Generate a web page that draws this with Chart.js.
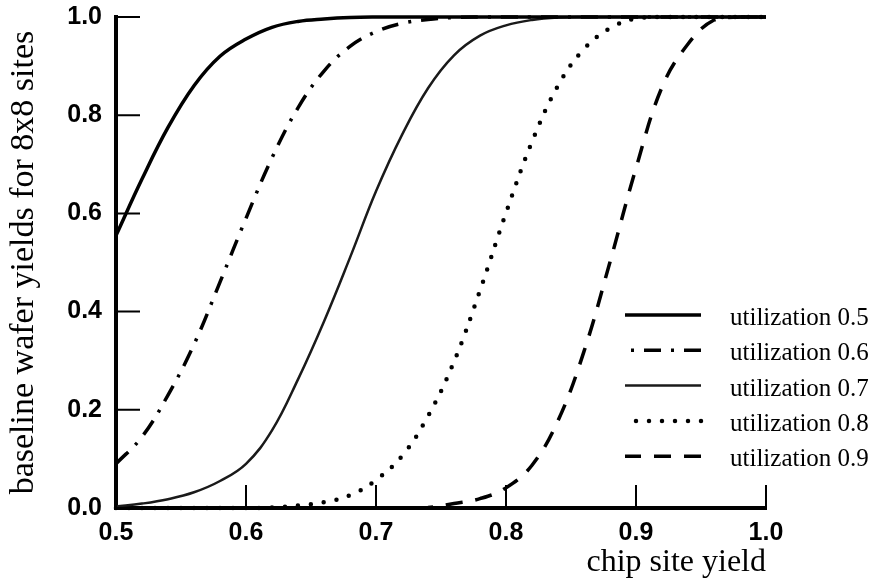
<!DOCTYPE html>
<html>
<head>
<meta charset="utf-8">
<script src="https://cdn.jsdelivr.net/npm/chart.js@4.4.1/dist/chart.umd.min.js"></script>
<style>
  html, body { margin: 0; padding: 0; background: #fff; }
  canvas { display: block; }
</style>
</head>
<body>
<canvas id="yieldChart" width="880" height="588"></canvas>
<script>
// chip site yield, 0.5 .. 1.0 in steps of 0.02
const chipYield = [0.50, 0.52, 0.54, 0.56, 0.58, 0.60, 0.62, 0.64, 0.66, 0.68,
                   0.70, 0.72, 0.74, 0.76, 0.78, 0.80, 0.82, 0.84, 0.86, 0.88,
                   0.90, 0.92, 0.94, 0.96, 0.98, 1.00];

// wafer yield for an 8x8 array at each utilization
const util05 = [0.555, 0.67, 0.775, 0.86, 0.92, 0.955, 0.979, 0.991, 0.996, 0.999,
                1, 1, 1, 1, 1, 1, 1, 1, 1, 1, 1, 1, 1, 1, 1, 1];
const util06 = [0.09, 0.145, 0.23, 0.333, 0.46, 0.59, 0.713, 0.815, 0.89, 0.94,
                0.97, 0.987, 0.995, 0.999, 1, 1, 1, 1, 1, 1, 1, 1, 1, 1, 1, 1];
const util07 = [0.003, 0.009, 0.018, 0.032, 0.055, 0.09, 0.158, 0.262, 0.38, 0.51,
                0.645, 0.76, 0.855, 0.922, 0.962, 0.983, 0.994, 0.999, 1, 1,
                1, 1, 1, 1, 1, 1];
const util08 = [0, 0, 0, 0, 0, 0, 0.001, 0.005, 0.012, 0.026,
                0.057, 0.106, 0.187, 0.298, 0.443, 0.601, 0.746, 0.86, 0.935, 0.977,
                0.997, 1, 1, 1, 1, 1];
const util09 = [0, 0, 0, 0, 0, 0, 0, 0, 0, 0,
                0, 0, 0.001, 0.009, 0.019, 0.041, 0.087, 0.178, 0.319, 0.501,
                0.692, 0.857, 0.945, 0.994, 1, 1];

const seriesLabels = ['utilization 0.5', 'utilization 0.6', 'utilization 0.7',
                      'utilization 0.8', 'utilization 0.9'];
const xTicks = [0.5, 0.6, 0.7, 0.8, 0.9, 1.0];
const yTicks = [0, 0.2, 0.4, 0.6, 0.8, 1.0];

const points = ys => chipYield.map((x, i) => ({ x: x, y: ys[i] }));

// tick marks point into the plot instead of out of it
const inwardTicks = {
  id: 'inwardTicks',
  afterDatasetsDraw(chart) {
    const { ctx, chartArea, scales: { x, y } } = chart;
    ctx.save();
    ctx.strokeStyle = '#000';
    ctx.lineWidth = 2;
    ctx.beginPath();
    x.ticks.forEach(t => {
      const px = x.getPixelForValue(t.value);
      ctx.moveTo(px, chartArea.bottom);
      ctx.lineTo(px, chartArea.bottom - 23);
    });
    y.ticks.forEach(t => {
      const py = y.getPixelForValue(t.value);
      ctx.moveTo(chartArea.left, py);
      ctx.lineTo(chartArea.left + 24, py);
    });
    ctx.stroke();
    ctx.restore();
  }
};

// key in the lower right, text runs past the end of the x axis
const lineKey = {
  id: 'lineKey',
  afterDatasetsDraw(chart) {
    const { ctx, chartArea } = chart;
    const x0 = chartArea.right - 141;
    const x1 = chartArea.right - 65;
    ctx.save();
    ctx.font = '25px "Liberation Serif"';
    ctx.fillStyle = '#000';
    ctx.textAlign = 'left';
    ctx.textBaseline = 'alphabetic';
    chart.data.datasets.forEach((ds, i) => {
      const yy = chartArea.top + 298 + i * 35.3;
      ctx.beginPath();
      ctx.setLineDash(ds.borderDash || []);
      ctx.lineWidth = ds.borderWidth;
      ctx.lineCap = ds.borderCapStyle || 'butt';
      ctx.strokeStyle = ds.borderColor;
      ctx.moveTo(x1, yy);
      ctx.lineTo(x0, yy);
      ctx.stroke();
      ctx.setLineDash([]);
      ctx.fillText(ds.label, chartArea.right - 36, yy + 10);
    });
    ctx.restore();
  }
};

const ctx = document.getElementById('yieldChart').getContext('2d');

new Chart(ctx, {
  type: 'line',
  data: {
    datasets: [
      {
        label: seriesLabels[0],
        data: points(util05),
        borderColor: '#000',
        borderWidth: 3.5
      },
      {
        label: seriesLabels[1],
        data: points(util06),
        borderColor: '#000',
        borderWidth: 3.5,
        borderDash: [17, 10, 3, 10]
      },
      {
        label: seriesLabels[2],
        data: points(util07),
        borderColor: '#1a1a1a',
        borderWidth: 2.5
      },
      {
        label: seriesLabels[3],
        data: points(util08),
        borderColor: '#000',
        borderWidth: 4.5,
        borderDash: [0, 13],
        borderCapStyle: 'round'
      },
      {
        label: seriesLabels[4],
        data: points(util09),
        borderColor: '#000',
        borderWidth: 3.5,
        borderDash: [17, 13]
      }
    ]
  },
  options: {
    responsive: false,
    animation: false,
    clip: false,
    tension: 0.4,
    pointRadius: 0,
    layout: {
      padding: { top: 17, right: 114, bottom: 0, left: 0 }
    },
    scales: {
      x: {
        type: 'linear',
        min: 0.5,
        max: 1.0,
        afterBuildTicks: s => { s.ticks = xTicks.map(v => ({ value: v })); },
        afterFit: s => { s.height = 80; },
        grid: { display: false, drawTicks: false },
        border: { display: true, width: 4, color: '#000' },
        ticks: {
          padding: 10,
          color: '#000',
          maxRotation: 0,
          font: { family: 'Liberation Sans', size: 25, weight: 'bold' },
          callback: v => v.toFixed(1)
        },
        title: {
          display: true,
          text: 'chip site yield',
          align: 'end',
          color: '#000',
          font: { family: 'Liberation Serif', size: 32 },
          padding: { top: 0, bottom: 6 }
        }
      },
      y: {
        type: 'linear',
        min: 0,
        max: 1,
        afterBuildTicks: s => { s.ticks = yTicks.map(v => ({ value: v })); },
        // the top label may sit above the plot edge, so drop the extra padding
        afterFit: s => { s.width = 116; s.paddingTop = 0; s.paddingBottom = 0; },
        grid: { display: false, drawTicks: false },
        border: { display: true, width: 4, color: '#000' },
        ticks: {
          padding: 14,
          color: '#000',
          font: { family: 'Liberation Sans', size: 25, weight: 'bold' },
          callback: v => v.toFixed(1)
        },
        title: {
          display: true,
          text: 'baseline wafer yields for 8x8 sites',
          color: '#000',
          font: { family: 'Liberation Serif', size: 34 },
          padding: { top: 4, bottom: 0 }
        }
      }
    },
    plugins: {
      legend: { display: false },
      tooltip: { enabled: false }
    }
  },
  plugins: [inwardTicks, lineKey]
});
</script>
</body>
</html>
